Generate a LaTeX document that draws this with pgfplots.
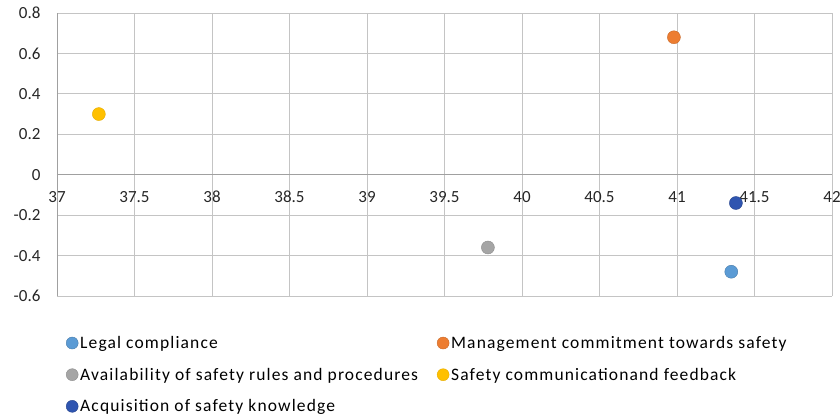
\documentclass[border=0pt]{standalone}
\usepackage{pgfplots}
\pgfplotsset{compat=1.18}
\usetikzlibrary{calc}
\usepackage{fontspec}
\setmainfont{Carlito}
\newfontfamily\legfont{Carlito}[LetterSpace=6.5]
\definecolor{c1}{HTML}{5B9BD5}
\definecolor{c2}{HTML}{ED7D31}
\definecolor{c3}{HTML}{A5A5A5}
\definecolor{c4}{HTML}{FFC000}
\definecolor{c5}{HTML}{2F55B0}
\definecolor{gridc}{HTML}{C4C4C4}
\definecolor{axc}{HTML}{A0A0A0}
\begin{document}
\begin{tikzpicture}
\begin{axis}[
  scale only axis, width=775pt, height=283pt,
  xmin=37, xmax=42, ymin=-0.6, ymax=0.8,
  xtick={37,37.5,38,38.5,39,39.5,40,40.5,41,41.5,42},
  ytick={-0.6,-0.4,-0.2,0,0.2,0.4,0.6,0.8},
  axis x line=middle, axis y line=left,
  hide obscured x ticks=false, hide obscured y ticks=false,
  axis line style={draw=axc, line width=0.9pt, -},
  grid=major, grid style={draw=gridc, line width=0.8pt},
  major tick length=0pt,
  /pgf/number format/assume math mode=true,
  tick label style={font=\fontsize{17}{20}\selectfont, color=black!85},
  xticklabel style={anchor=north, yshift=-13pt},
  yticklabel style={anchor=east, xshift=-13pt},
  legend columns=2,
  legend cell align=left,
  legend image code/.code={\draw[#1, mark size=6pt] plot coordinates {(0pt,0pt)};},
  legend style={draw=none, fill=none, at={(axis description cs:0,0)}, anchor=north west,
    xshift=9pt, yshift=-38pt,
    font=\fontsize{17.5}{20}\legfont,
    /tikz/every even column/.append style={column sep=17pt},
    row sep=14pt, inner sep=0pt},
]
\coordinate (bl) at (rel axis cs:0,0);
\coordinate (tr) at (rel axis cs:1,1);
\addplot[only marks, mark=*, mark size=6.5pt, mark options={fill=c1, draw=c1!80!black, line width=0.4pt}]
  coordinates {(41.35,-0.48)};
\addlegendentry{Legal compliance}
\addplot[only marks, mark=*, mark size=6.5pt, mark options={fill=c2, draw=c2!85!black, line width=0.4pt}]
  coordinates {(40.98,0.68)};
\addlegendentry{Management commitment towards safety}
\addplot[only marks, mark=*, mark size=6.5pt, mark options={fill=c3, draw=c3!85!black, line width=0.4pt}]
  coordinates {(39.78,-0.36)};
\addlegendentry{Availability of safety rules and procedures}
\addplot[only marks, mark=*, mark size=6.5pt, mark options={fill=c4, draw=c4!90!black, line width=0.4pt}]
  coordinates {(37.27,0.30)};
\addlegendentry{Safety communicationand feedback}
\addplot[only marks, mark=*, mark size=6.5pt, mark options={fill=c5, draw=c5!80!black, line width=0.4pt}]
  coordinates {(41.38,-0.14)};
\addlegendentry{Acquisition of safety knowledge}
\end{axis}
\pgfresetboundingbox
\path[use as bounding box] ($(bl)+(-57pt,-120pt)$) rectangle ($(tr)+(8pt,13pt)$);
\end{tikzpicture}
\end{document}
